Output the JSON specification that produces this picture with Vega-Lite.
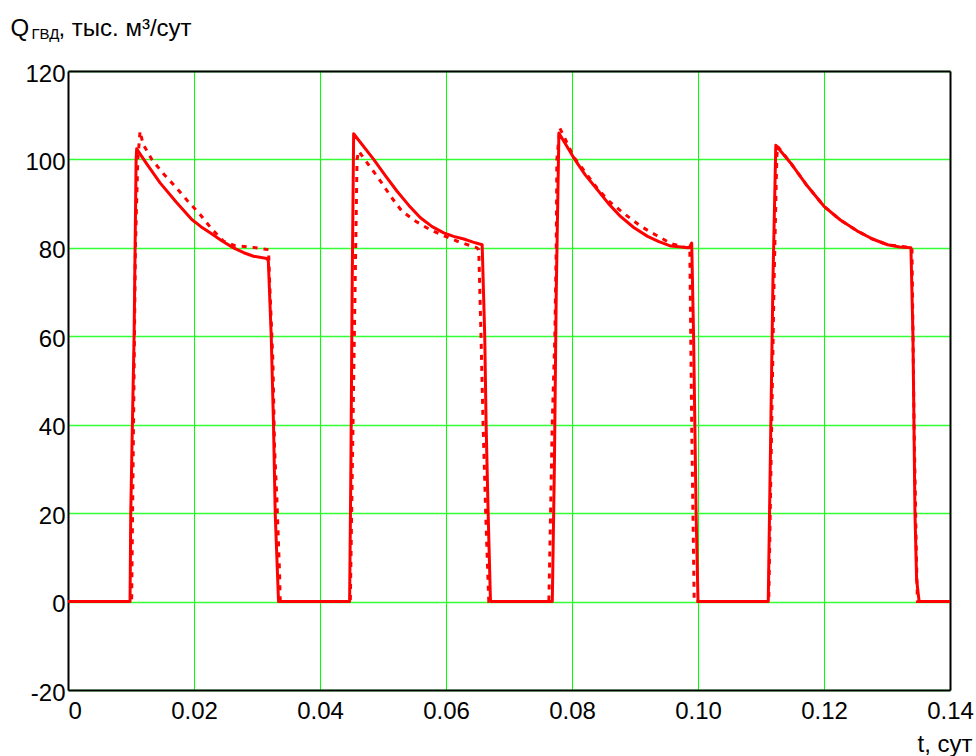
{
  "$schema": "https://vega.github.io/schema/vega-lite/v6.json",
  "autosize": {"type": "none"},
  "padding": {"left": 68, "top": 71, "right": 26, "bottom": 66},
  "width": 882,
  "height": 619,
  "background": "white",
  "config": {
    "font": "Liberation Sans",
    "view": {"stroke": null},
    "axis": {
      "labelFont": "Liberation Sans",
      "titleFont": "Liberation Sans",
      "labelColor": "#000000",
      "titleColor": "#000000",
      "titleFontWeight": "normal",
      "ticks": false,
      "domain": true,
      "domainColor": "#000000",
      "domainWidth": 2
    }
  },
  "data": {
    "values": [
      {"series": "solid", "t": 0, "q": 0},
      {"series": "solid", "t": 0.00985, "q": 0},
      {"series": "solid", "t": 0.00996, "q": 20},
      {"series": "solid", "t": 0.01022, "q": 40},
      {"series": "solid", "t": 0.01049, "q": 60},
      {"series": "solid", "t": 0.01065, "q": 80},
      {"series": "solid", "t": 0.01081, "q": 100},
      {"series": "solid", "t": 0.0109, "q": 102.4},
      {"series": "solid", "t": 0.0125, "q": 99.0},
      {"series": "solid", "t": 0.01462, "q": 94.7},
      {"series": "solid", "t": 0.0172, "q": 90.3},
      {"series": "solid", "t": 0.01965, "q": 86.4},
      {"series": "solid", "t": 0.0211, "q": 84.8},
      {"series": "solid", "t": 0.02256, "q": 83.4},
      {"series": "solid", "t": 0.0244, "q": 81.6},
      {"series": "solid", "t": 0.02627, "q": 80.0},
      {"series": "solid", "t": 0.0279, "q": 78.9},
      {"series": "solid", "t": 0.02945, "q": 78.1},
      {"series": "solid", "t": 0.03157, "q": 77.6},
      {"series": "solid", "t": 0.0318, "q": 77.0},
      {"series": "solid", "t": 0.03226, "q": 60},
      {"series": "solid", "t": 0.03262, "q": 40},
      {"series": "solid", "t": 0.03289, "q": 20},
      {"series": "solid", "t": 0.03342, "q": 0},
      {"series": "solid", "t": 0.0447, "q": 0},
      {"series": "solid", "t": 0.0449, "q": 30},
      {"series": "solid", "t": 0.0451, "q": 70},
      {"series": "solid", "t": 0.04534, "q": 105.8},
      {"series": "solid", "t": 0.04852, "q": 100},
      {"series": "solid", "t": 0.0504, "q": 96.3},
      {"series": "solid", "t": 0.05223, "q": 92.8},
      {"series": "solid", "t": 0.0541, "q": 89.6},
      {"series": "solid", "t": 0.05594, "q": 86.8},
      {"series": "solid", "t": 0.0578, "q": 84.8},
      {"series": "solid", "t": 0.05964, "q": 83.4},
      {"series": "solid", "t": 0.0612, "q": 82.6},
      {"series": "solid", "t": 0.06282, "q": 82.0},
      {"series": "solid", "t": 0.0643, "q": 81.3},
      {"series": "solid", "t": 0.06574, "q": 80.7},
      {"series": "solid", "t": 0.06615, "q": 60},
      {"series": "solid", "t": 0.06637, "q": 40},
      {"series": "solid", "t": 0.06669, "q": 20},
      {"series": "solid", "t": 0.06706, "q": 0},
      {"series": "solid", "t": 0.07687, "q": 0},
      {"series": "solid", "t": 0.0772, "q": 30},
      {"series": "solid", "t": 0.0775, "q": 70},
      {"series": "solid", "t": 0.07792, "q": 106.0},
      {"series": "solid", "t": 0.0803, "q": 100.3},
      {"series": "solid", "t": 0.0821, "q": 96.5},
      {"series": "solid", "t": 0.084, "q": 93.2},
      {"series": "solid", "t": 0.0858, "q": 90.0},
      {"series": "solid", "t": 0.0877, "q": 87.1},
      {"series": "solid", "t": 0.0898, "q": 84.6},
      {"series": "solid", "t": 0.092, "q": 82.6},
      {"series": "solid", "t": 0.0938, "q": 81.4},
      {"series": "solid", "t": 0.0957, "q": 80.4},
      {"series": "solid", "t": 0.0986, "q": 80.0},
      {"series": "solid", "t": 0.099, "q": 81.1},
      {"series": "solid", "t": 0.0993, "q": 60},
      {"series": "solid", "t": 0.0997, "q": 20},
      {"series": "solid", "t": 0.1, "q": 0},
      {"series": "solid", "t": 0.11115, "q": 0},
      {"series": "solid", "t": 0.1119, "q": 72.8},
      {"series": "solid", "t": 0.11235, "q": 103.2},
      {"series": "solid", "t": 0.1147, "q": 99.2},
      {"series": "solid", "t": 0.1173, "q": 94.1},
      {"series": "solid", "t": 0.12, "q": 89.4},
      {"series": "solid", "t": 0.1226, "q": 86.3},
      {"series": "solid", "t": 0.1253, "q": 83.8},
      {"series": "solid", "t": 0.1277, "q": 82.0},
      {"series": "solid", "t": 0.1301, "q": 80.7},
      {"series": "solid", "t": 0.132, "q": 80.2},
      {"series": "solid", "t": 0.1338, "q": 80.0},
      {"series": "solid", "t": 0.13412, "q": 60},
      {"series": "solid", "t": 0.13444, "q": 20},
      {"series": "solid", "t": 0.1347, "q": 5},
      {"series": "solid", "t": 0.1351, "q": 0},
      {"series": "solid", "t": 0.14, "q": 0},

      {"series": "dotted", "t": 0, "q": 0},
      {"series": "dotted", "t": 0.0101, "q": 0},
      {"series": "dotted", "t": 0.0104, "q": 40},
      {"series": "dotted", "t": 0.0107, "q": 80},
      {"series": "dotted", "t": 0.01108, "q": 100},
      {"series": "dotted", "t": 0.01144, "q": 106.4},
      {"series": "dotted", "t": 0.0119, "q": 103.5},
      {"series": "dotted", "t": 0.0133, "q": 100},
      {"series": "dotted", "t": 0.015, "q": 97.0},
      {"series": "dotted", "t": 0.017, "q": 93.9},
      {"series": "dotted", "t": 0.019, "q": 90.6},
      {"series": "dotted", "t": 0.021, "q": 87.5},
      {"series": "dotted", "t": 0.0228, "q": 84.3},
      {"series": "dotted", "t": 0.0247, "q": 81.5},
      {"series": "dotted", "t": 0.0265, "q": 80.5},
      {"series": "dotted", "t": 0.0294, "q": 80.1},
      {"series": "dotted", "t": 0.03183, "q": 79.6},
      {"series": "dotted", "t": 0.03199, "q": 72.8},
      {"series": "dotted", "t": 0.03253, "q": 54},
      {"series": "dotted", "t": 0.03278, "q": 35},
      {"series": "dotted", "t": 0.03316, "q": 23},
      {"series": "dotted", "t": 0.03358, "q": 6.5},
      {"series": "dotted", "t": 0.03369, "q": 0},
      {"series": "dotted", "t": 0.04481, "q": 0},
      {"series": "dotted", "t": 0.04545, "q": 60},
      {"series": "dotted", "t": 0.04588, "q": 100},
      {"series": "dotted", "t": 0.04613, "q": 101.9},
      {"series": "dotted", "t": 0.0496, "q": 95.1},
      {"series": "dotted", "t": 0.0513, "q": 91.5},
      {"series": "dotted", "t": 0.053, "q": 88.3},
      {"series": "dotted", "t": 0.0552, "q": 86.0},
      {"series": "dotted", "t": 0.0575, "q": 84.1},
      {"series": "dotted", "t": 0.0597, "q": 82.7},
      {"series": "dotted", "t": 0.0618, "q": 81.5},
      {"series": "dotted", "t": 0.0649, "q": 80.0},
      {"series": "dotted", "t": 0.0652, "q": 79.6},
      {"series": "dotted", "t": 0.06556, "q": 60},
      {"series": "dotted", "t": 0.06589, "q": 40},
      {"series": "dotted", "t": 0.0663, "q": 20},
      {"series": "dotted", "t": 0.06679, "q": 0},
      {"series": "dotted", "t": 0.07633, "q": 0},
      {"series": "dotted", "t": 0.0766, "q": 20},
      {"series": "dotted", "t": 0.07686, "q": 40},
      {"series": "dotted", "t": 0.07728, "q": 60},
      {"series": "dotted", "t": 0.0775, "q": 80},
      {"series": "dotted", "t": 0.0776, "q": 100},
      {"series": "dotted", "t": 0.07807, "q": 107.1},
      {"series": "dotted", "t": 0.0803, "q": 100.5},
      {"series": "dotted", "t": 0.084, "q": 93.5},
      {"series": "dotted", "t": 0.0859, "q": 90.5},
      {"series": "dotted", "t": 0.0885, "q": 87.5},
      {"series": "dotted", "t": 0.0909, "q": 84.9},
      {"series": "dotted", "t": 0.0933, "q": 82.9},
      {"series": "dotted", "t": 0.0957, "q": 81.0},
      {"series": "dotted", "t": 0.0979, "q": 80.1},
      {"series": "dotted", "t": 0.0987, "q": 80},
      {"series": "dotted", "t": 0.099, "q": 40},
      {"series": "dotted", "t": 0.0994, "q": 0},
      {"series": "dotted", "t": 0.11123, "q": 0},
      {"series": "dotted", "t": 0.11208, "q": 72.8},
      {"series": "dotted", "t": 0.1125, "q": 100},
      {"series": "dotted", "t": 0.11262, "q": 103},
      {"series": "dotted", "t": 0.1147, "q": 99.2},
      {"series": "dotted", "t": 0.1173, "q": 94.1},
      {"series": "dotted", "t": 0.12, "q": 89.4},
      {"series": "dotted", "t": 0.1226, "q": 86.3},
      {"series": "dotted", "t": 0.1253, "q": 83.8},
      {"series": "dotted", "t": 0.1277, "q": 82.0},
      {"series": "dotted", "t": 0.1301, "q": 80.7},
      {"series": "dotted", "t": 0.133, "q": 80.2},
      {"series": "dotted", "t": 0.13396, "q": 80},
      {"series": "dotted", "t": 0.1343, "q": 40},
      {"series": "dotted", "t": 0.13467, "q": 10},
      {"series": "dotted", "t": 0.13483, "q": 0},
      {"series": "dotted", "t": 0.14, "q": 0}
    ]
  },
  "layer": [
    {
      "transform": [{"filter": "datum.series === 'dotted'"}],
      "mark": {"type": "line", "color": "#ff0000", "strokeWidth": 3, "strokeDash": [5, 6], "strokeCap": "butt"},
      "encoding": {
        "x": {
          "field": "t", "type": "quantitative",
          "scale": {"domain": [0, 0.14], "nice": false, "zero": false},
          "axis": {
            "orient": "top", "labels": false, "grid": false,
            "title": "ГВД", "titleFontSize": 15, "titleAngle": 0,
            "titleAlign": "left", "titleBaseline": "alphabetic",
            "titleX": -37, "titleY": -33
          }
        },
        "y": {
          "field": "q", "type": "quantitative",
          "scale": {"domain": [-20, 120], "nice": false, "zero": false},
          "axis": {
            "orient": "right", "labels": false, "grid": false,
            "title": ", тыс. м³/сут", "titleFontSize": 24, "titleAngle": 0,
            "titleAlign": "left", "titleBaseline": "alphabetic",
            "titleX": -892, "titleY": -36
          }
        },
        "order": {"field": "t", "type": "quantitative"}
      }
    },
    {
      "transform": [{"filter": "datum.series === 'solid'"}],
      "mark": {"type": "line", "color": "#ff0000", "strokeWidth": 3, "strokeJoin": "round"},
      "encoding": {
        "x": {
          "field": "t", "type": "quantitative",
          "scale": {"domain": [0, 0.14], "nice": false, "zero": false},
          "axis": {
            "orient": "bottom",
            "values": [0, 0.02, 0.04, 0.06, 0.08, 0.1, 0.12, 0.14],
            "grid": true, "gridColor": "#00ff00", "gridWidth": 1,
            "labelExpr": "datum.value == 0 ? '0' : format(datum.value, '.2f')",
            "labelFontSize": 24, "labelPadding": 9, "labelFlush": false,
            "labelAlign": {"condition": {"test": "datum.value == 0", "value": "left"}, "value": "center"},
            "title": "t, сут", "titleFontSize": 24, "titleAngle": 0,
            "titleAlign": "left", "titleBaseline": "alphabetic",
            "titleX": 849, "titleY": 61
          }
        },
        "y": {
          "field": "q", "type": "quantitative",
          "scale": {"domain": [-20, 120], "nice": false, "zero": false},
          "axis": {
            "orient": "left",
            "values": [-20, 0, 20, 40, 60, 80, 100, 120],
            "grid": true, "gridColor": "#33ff33", "gridWidth": 1.5,
            "labelExpr": "toString(datum.value)",
            "labelFontSize": 24, "labelPadding": 3, "labelOffset": 3,
            "labelFlush": false,
            "title": "Q", "titleFontSize": 24, "titleAngle": 0,
            "titleAlign": "left", "titleBaseline": "alphabetic",
            "titleX": -58, "titleY": -36
          }
        },
        "order": {"field": "t", "type": "quantitative"}
      }
    }
  ],
  "resolve": {"axis": {"x": "independent", "y": "independent"}}
}
